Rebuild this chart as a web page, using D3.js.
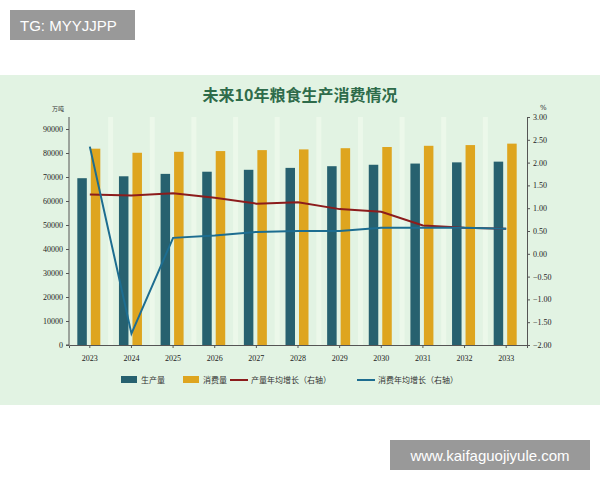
<!DOCTYPE html>
<html><head><meta charset="utf-8">
<script src="https://cdn.jsdelivr.net/npm/d3@7"></script>
<style>body{margin:0;background:#fff}svg{display:block}</style>
</head><body><svg id="c" width="600" height="480"></svg>
<script>
const years = ["2023","2024","2025","2026","2027","2028","2029","2030","2031","2032","2033"];
const production = [69500,70300,71300,72200,73000,73800,74500,75100,75600,76100,76400];
const consumption = [81800,80100,80500,80800,81200,81500,82000,82500,83000,83300,83900];
const prodGrowth = [1.30,1.28,1.33,1.23,1.10,1.13,0.98,0.92,0.62,0.57,0.55];
const consGrowth = [2.35,-1.75,0.35,0.40,0.48,0.50,0.50,0.57,0.57,0.57,0.55];
const leftTicks = d3.range(0, 90001, 10000);
const rightTicks = d3.range(-2, 3.01, 0.5);

const svg = d3.select("#c");
svg.append("rect").attr("x",0).attr("y",75).attr("width",600).attr("height",330).attr("fill","#e2f3e3");

const L = 69, R = 527, T = 117, B = 345;
const x = d3.scaleBand().domain(years).range([L, R]).padding(0);
const yL = d3.scaleLinear().domain([0, 95000]).range([B, T]);
const yR = d3.scaleLinear().domain([-2, 3]).range([B, T]);

// faint vertical stripes
svg.append("g").selectAll("line").data(years.slice(1)).join("line")
  .attr("x1", d => x(d)).attr("x2", d => x(d)).attr("y1", T).attr("y2", B)
  .attr("stroke", "#ecf8ea").attr("stroke-width", 5);

svg.append("text").attr("x",300).attr("y",101).attr("text-anchor","middle")
  .attr("font-family","Noto Sans CJK SC").attr("font-size",16).attr("font-weight","bold")
  .attr("fill","#2e6b4a").text("未来10年粮食生产消费情况");
svg.append("text").attr("x",52).attr("y",111).attr("font-family","Noto Sans CJK SC").attr("font-size",6).attr("fill","#333").text("万吨");
svg.append("text").attr("x",540).attr("y",110).attr("font-family","DejaVu Sans").attr("font-size",7).attr("fill","#333").text("%");

const bw = 9.5;
svg.append("g").selectAll("rect").data(years).join("rect")
  .attr("x", (d,i) => x(d) + x.bandwidth()/2 - bw - 3).attr("width", bw)
  .attr("y", (d,i) => yL(production[i])).attr("height", (d,i) => B - yL(production[i]))
  .attr("fill", "#27616f");
svg.append("g").selectAll("rect").data(years).join("rect")
  .attr("x", (d,i) => x(d) + x.bandwidth()/2 + 1).attr("width", bw)
  .attr("y", (d,i) => yL(consumption[i])).attr("height", (d,i) => B - yL(consumption[i]))
  .attr("fill", "#dea51f");

const cx = d => x(d) + x.bandwidth()/2;
const line = arr => d3.line().x((d,i) => cx(years[i])).y(d => yR(d))(arr);
svg.append("path").attr("d", line(prodGrowth)).attr("fill","none").attr("stroke","#8c1c1c").attr("stroke-width",2);
svg.append("path").attr("d", line(consGrowth)).attr("fill","none").attr("stroke","#1d6d90").attr("stroke-width",2);

const font = g => g.selectAll("text").attr("font-family","Liberation Serif").attr("font-size",8).attr("fill","#222");
const ax = svg.append("g").attr("transform",`translate(0,${B})`).call(d3.axisBottom(x).tickSize(3)).call(font);
ax.selectAll(".tick text").attr("dy","1.2em");
svg.append("g").attr("transform",`translate(${L},0)`).call(d3.axisLeft(yL).tickValues(leftTicks).tickSize(3).tickFormat(d3.format("d"))).call(font)
  .call(g => g.select(".domain").attr("d",`M-3,${B}H0V${T}`));
svg.append("g").attr("transform",`translate(${R},0)`).call(d3.axisRight(yR).tickValues(rightTicks).tickSize(3).tickFormat(d3.format(".2f"))).call(font);
svg.selectAll(".domain, .tick line").attr("stroke","#555");

const lg = svg.append("g").attr("font-family","Noto Sans CJK SC").attr("font-size",8).attr("fill","#333");
lg.append("rect").attr("x",121).attr("y",376).attr("width",16).attr("height",7).attr("fill","#27616f");
lg.append("text").attr("x",141).attr("y",383).text("生产量");
lg.append("rect").attr("x",183).attr("y",376).attr("width",16).attr("height",7).attr("fill","#dea51f");
lg.append("text").attr("x",203).attr("y",383).text("消费量");
lg.append("line").attr("x1",230).attr("x2",248).attr("y1",380).attr("y2",380).attr("stroke","#8c1c1c").attr("stroke-width",2);
lg.append("text").attr("x",251).attr("y",383).text("产量年均增长（右轴）");
lg.append("line").attr("x1",357).attr("x2",375).attr("y1",380).attr("y2",380).attr("stroke","#1d6d90").attr("stroke-width",2);
lg.append("text").attr("x",378).attr("y",383).text("消费年均增长（右轴）");

// watermarks
svg.append("rect").attr("x",10).attr("y",10).attr("width",125).attr("height",30).attr("fill","#999");
svg.append("text").attr("x",20).attr("y",31).attr("font-family","Liberation Sans").attr("font-size",15).attr("fill","#fff").text("TG: MYYJJPP");
svg.append("rect").attr("x",390).attr("y",440).attr("width",200).attr("height",30).attr("fill","#999");
svg.append("text").attr("x",490).attr("y",461).attr("text-anchor","middle").attr("font-family","Liberation Sans").attr("font-size",15).attr("fill","#fff").text("www.kaifaguojiyule.com");
</script></body></html>
